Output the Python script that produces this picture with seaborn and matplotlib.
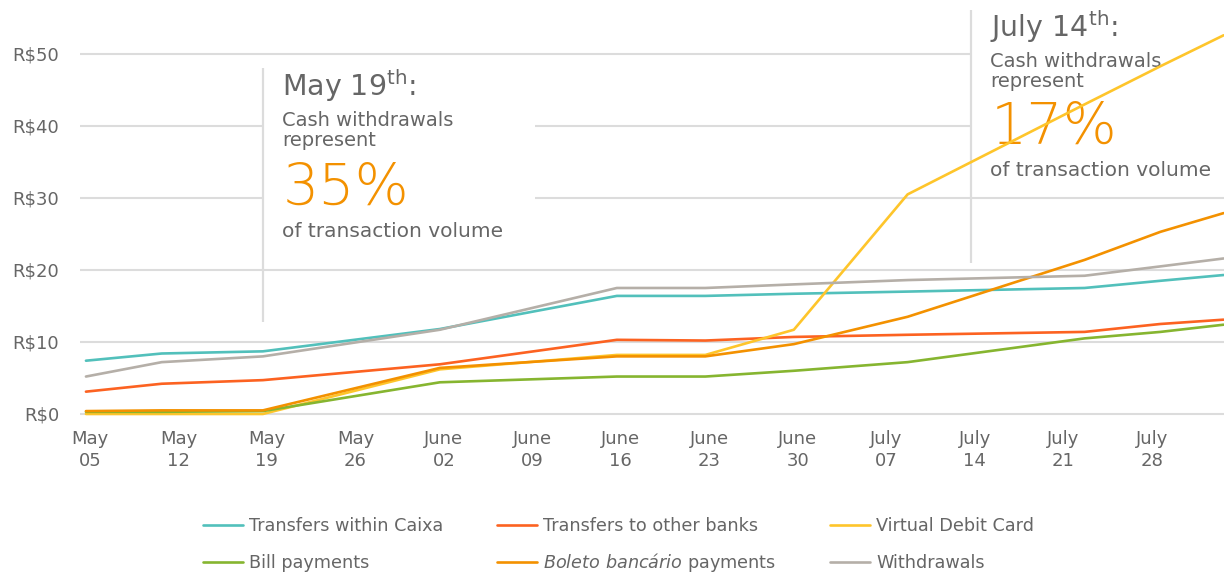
import numpy as np
import pandas as pd
import matplotlib
matplotlib.use("Agg")
import matplotlib.pyplot as plt
import matplotlib.dates as mdates
import matplotlib.transforms as mtransforms
from matplotlib.lines import Line2D
from matplotlib.patches import Rectangle
import seaborn as sns

# ---------------- data ----------------
dates = ["2020-05-05", "2020-05-11", "2020-05-19", "2020-06-02", "2020-06-16",
         "2020-06-23", "2020-06-30", "2020-07-09", "2020-07-23", "2020-07-29",
         "2020-08-03"]
transfers_caixa = [7.4, 8.4, 8.7, 11.8, 16.4, 16.4, 16.7, 17.0, 17.5, 18.5, 19.3]
transfers_other = [3.1, 4.2, 4.7, 6.9, 10.3, 10.2, 10.7, 11.0, 11.4, 12.5, 13.1]
virtual_debit = [0.0, 0.0, 0.0, 6.2, 8.2, 8.2, 11.7, 30.5, 43.0, 48.3, 52.6]
bill_payments = [0.3, 0.3, 0.4, 4.4, 5.2, 5.2, 6.0, 7.2, 10.5, 11.4, 12.4]
boleto_payments = [0.4, 0.5, 0.5, 6.4, 8.0, 8.0, 9.7, 13.5, 21.4, 25.3, 27.9]
withdrawals = [5.2, 7.2, 8.0, 11.7, 17.5, 17.5, 18.0, 18.6, 19.2, 20.5, 21.6]

series_names = ["Transfers within Caixa", "Transfers to other banks",
                "Virtual Debit Card", "Bill payments",
                "Boleto bancário payments", "Withdrawals"]
legend_labels = ["Transfers within Caixa", "Transfers to other banks",
                 "Virtual Debit Card", "Bill payments",
                 r"$\it{Boleto\ bancário}$ payments", "Withdrawals"]
series_colors = ["#52C0BB", "#FC6221", "#FEC52B", "#86B530", "#F39100", "#B5AFA8"]

ytick_values = [0, 10, 20, 30, 40, 50]
ytick_labels = ["R$0", "R$10", "R$20", "R$30", "R$40", "R$50"]
xtick_dates = ["2020-05-05", "2020-05-12", "2020-05-19", "2020-05-26",
               "2020-06-02", "2020-06-09", "2020-06-16", "2020-06-23",
               "2020-06-30", "2020-07-07", "2020-07-14", "2020-07-21",
               "2020-07-28"]
xtick_labels = ["May\n05", "May\n12", "May\n19", "May\n26", "June\n02",
                "June\n09", "June\n16", "June\n23", "June\n30", "July\n07",
                "July\n14", "July\n21", "July\n28"]

note_dates = ["2020-05-19", "2020-07-14"]
note_heads = ["May 19", "July 14"]
note_pcts = ["35%", "17%"]

# ---------------- style ----------------
sns.set_theme(style="white")
plt.rcParams['font.family'] = ['DejaVu Sans']
plt.rcParams['mathtext.fontset'] = 'dejavusans'

TXT = "#666666"
GRID = "#DCDCDC"
ORANGE_TXT = "#F39100"

fig = plt.figure(figsize=(12.24, 5.75), dpi=100)
ax = fig.add_axes([80 / 1224, 158 / 575, 1144 / 1224, 417 / 575])

series_values = [transfers_caixa, transfers_other, virtual_debit,
                 bill_payments, boleto_payments, withdrawals]
df = pd.DataFrame({"date": pd.to_datetime(dates)})
for name, vals in zip(series_names, series_values):
    df[name] = vals
long_df = df.melt(id_vars="date", var_name="series", value_name="value")

sns.lineplot(data=long_df, x="date", y="value", hue="series",
             hue_order=series_names,
             palette=dict(zip(series_names, series_colors)),
             linewidth=1.9, legend=False, ax=ax, zorder=3)

start = pd.Timestamp(dates[0])
ax.set_xlim(start - pd.Timedelta(hours=11.3), start + pd.Timedelta(days=90.03))
ax.set_ylim(-0.42, 57.5)

ax.set_yticks(ytick_values)
ax.set_yticklabels(ytick_labels)
ax.set_xticks(pd.to_datetime(xtick_dates))
ax.set_xticklabels(xtick_labels, linespacing=1.35)
ax.tick_params(axis="both", length=0, labelsize=13, labelcolor=TXT)
ax.tick_params(axis="y", pad=15)
ax.tick_params(axis="x", pad=9)
shift = mtransforms.ScaledTranslation(4 / 100, 0, fig.dpi_scale_trans)
for lab in ax.get_xticklabels():
    lab.set_transform(lab.get_transform() + shift)
ax.set_xlabel("")
ax.set_ylabel("")
for s in ax.spines.values():
    s.set_visible(False)
ax.set_axisbelow(True)
ax.yaxis.grid(True, color=GRID, linewidth=1.5)
ax.xaxis.grid(False)

# ---------------- annotations ----------------
note_specs = [
    # (line ymin, line ymax, box ymin, box ymax, box width days, baselines)
    (12.8, 48.1, 22.0, 48.1, 21.5, [44.2, 40.0, 37.2, 29.0, 24.6]),
    (21.0, 56.1, 31.0, 58.0, 25.0, [52.3, 48.2, 45.4, 37.5, 33.1]),
]
for d, head, pct, spec in zip(note_dates, note_heads, note_pcts, note_specs):
    lo, hi, blo, bhi, bw, bl = spec
    xd = mdates.date2num(pd.Timestamp(d))
    ax.add_patch(Rectangle((xd, blo), bw, bhi - blo, facecolor="white",
                           edgecolor="none", zorder=1))
    ax.vlines(xd, lo, hi, color=GRID, linewidth=1.6, zorder=1.2)
    tr = mtransforms.offset_copy(ax.transData, fig=fig, x=14, y=0, units="points")
    ax.text(xd, bl[0], head + r"$^{\mathrm{th}}$:", transform=tr, fontsize=20.5,
            color=TXT, va="baseline", ha="left", zorder=1.5)
    ax.text(xd, bl[1], "Cash withdrawals", transform=tr, fontsize=14,
            color=TXT, va="baseline", ha="left", zorder=1.5)
    ax.text(xd, bl[2], "represent", transform=tr, fontsize=14,
            color=TXT, va="baseline", ha="left", zorder=1.5)
    ax.text(xd, bl[3], pct, transform=tr, fontsize=41, color=ORANGE_TXT,
            fontweight="light", va="baseline", ha="left", zorder=1.5)
    ax.text(xd, bl[4], "of transaction volume", transform=tr, fontsize=14.5,
            color=TXT, va="baseline", ha="left", zorder=1.5)

# ---------------- legend (3 columns) ----------------
col_x = [203, 497, 830]
col_members = [[0, 3], [1, 4], [2, 5]]
col_spacing = [1.1, 0.93, 1.1]
for cx, members, sp in zip(col_x, col_members, col_spacing):
    handles = [Line2D([0], [0], color=series_colors[i], linewidth=1.9) for i in members]
    labels = [legend_labels[i] for i in members]
    fig.legend(handles, labels, loc="upper left",
               bbox_to_anchor=(cx / 1224, 1 - 517 / 575),
               frameon=False, fontsize=12.7, labelcolor=TXT,
               handlelength=2.27, handletextpad=0.35, labelspacing=sp,
               borderpad=0, borderaxespad=0)

fig.savefig("out.png", dpi=100)
